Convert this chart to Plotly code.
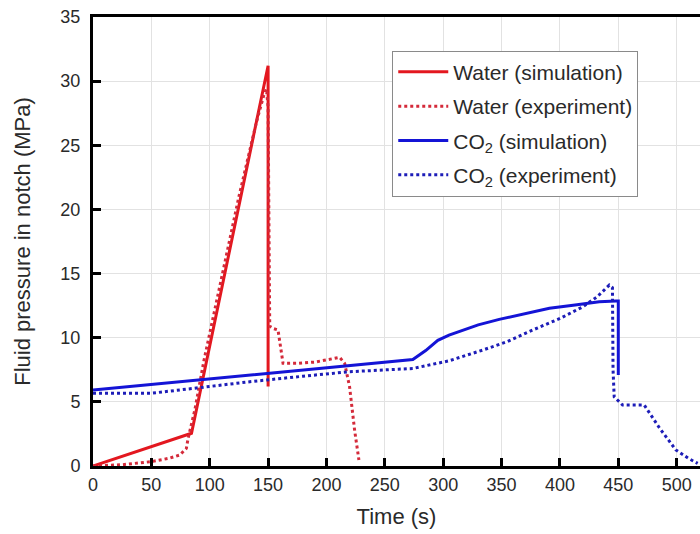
import plotly.graph_objects as go

# Water simulation
water_sim_t = [0, 84.4, 150, 150]
water_sim_p = [0, 2.55, 31.2, 6.2]

# Water experiment
water_exp_t = [0, 25, 50, 65, 74.4, 80, 81.5, 87.3, 95, 110, 125, 140, 146, 148.5, 150, 150.8, 151.4, 155, 158.5, 162.8, 175, 190, 200, 211.3, 215.6, 219.8, 224.1, 227.8]
water_exp_p = [0, 0.1, 0.34, 0.6, 0.86, 1.38, 2.16, 4.4, 8.2, 14.6, 21.0, 26.8, 28.8, 29.4, 28.0, 18.0, 10.9, 10.7, 10.6, 8.0, 8.0, 8.1, 8.25, 8.47, 8.0, 6.18, 2.8, 0.47]

# CO2 simulation
co2_sim_t = [0, 274, 285, 295.4, 305, 316.8, 330, 348, 370, 391, 413, 433.7, 448, 450, 450]
co2_sim_p = [5.92, 8.3, 9.0, 9.8, 10.2, 10.6, 11.0, 11.43, 11.9, 12.3, 12.55, 12.8, 12.86, 12.86, 7.1]

# CO2 experiment
co2_exp_t = [0, 50, 100, 134.3, 180, 219.8, 274, 305, 334, 355, 376.7, 400, 419.4, 432, 442.3, 445, 445.5, 446.5, 453.7, 472.2, 485, 499.3, 510, 518]
co2_exp_p = [5.67, 5.67, 6.2, 6.57, 7.0, 7.35, 7.6, 8.2, 9.04, 9.7, 10.6, 11.5, 12.4, 13.2, 14.1, 13.9, 7.5, 5.4, 4.75, 4.75, 3.0, 1.25, 0.6, 0.2]

x_ticks = list(range(0, 501, 50))
y_ticks = list(range(0, 36, 5))

RED = "#e3171f"
RED_DOT = "#d42a3a"
BLUE = "#1414d6"
BLUE_DOT = "#1d1db8"
TXT = "#2a2a2a"
FONT = "Liberation Sans, Arial, sans-serif"

fig = go.Figure()
fig.add_trace(go.Scatter(x=water_sim_t, y=water_sim_p, mode="lines", name="Water (simulation)",
                         line=dict(color=RED, width=3), legendgroup="a"))
fig.add_trace(go.Scatter(x=water_exp_t, y=water_exp_p, mode="lines", name="Water (experiment)",
                         line=dict(color=RED_DOT, width=3, dash="dot"), legendgroup="b"))
fig.add_trace(go.Scatter(x=co2_sim_t, y=co2_sim_p, mode="lines", name="CO<sub>2</sub> (simulation)",
                         line=dict(color=BLUE, width=3), legendgroup="c"))
fig.add_trace(go.Scatter(x=co2_exp_t, y=co2_exp_p, mode="lines", name="CO<sub>2</sub> (experiment)",
                         line=dict(color=BLUE_DOT, width=3, dash="dot"), legendgroup="d"))

axis_common = dict(
    showgrid=True, gridcolor="#e2e2e2", gridwidth=1,
    showline=True, linecolor="black", linewidth=3,
    ticks="inside", ticklen=8, tickwidth=3, tickcolor="black",
    zeroline=False, automargin=False,
    tickfont=dict(family=FONT, size=18, color=TXT),
)

fig.update_layout(
    width=700, height=534,
    margin=dict(l=93, r=0, t=17, b=68),
    paper_bgcolor="white", plot_bgcolor="white",
    font=dict(family=FONT, color=TXT),
    xaxis=dict(range=[0, 520], tickvals=x_ticks, mirror=True, ticklabelstandoff=0,
               title=dict(text="Time (s)", font=dict(size=22), standoff=16), **axis_common),
    yaxis=dict(range=[0, 35], tickvals=y_ticks, mirror=False, ticklabelstandoff=6,
               title=dict(text="Fluid pressure in notch (MPa)", font=dict(size=22), standoff=24), **axis_common),
    legend=dict(x=0.493, y=0.925, xanchor="left", yanchor="top",
                bgcolor="white", bordercolor="#8a8a8a", borderwidth=1,
                font=dict(size=21, color=TXT), traceorder="grouped",
                tracegroupgap=4, itemwidth=50),
    showlegend=True,
)

fig.write_html("out.html")
